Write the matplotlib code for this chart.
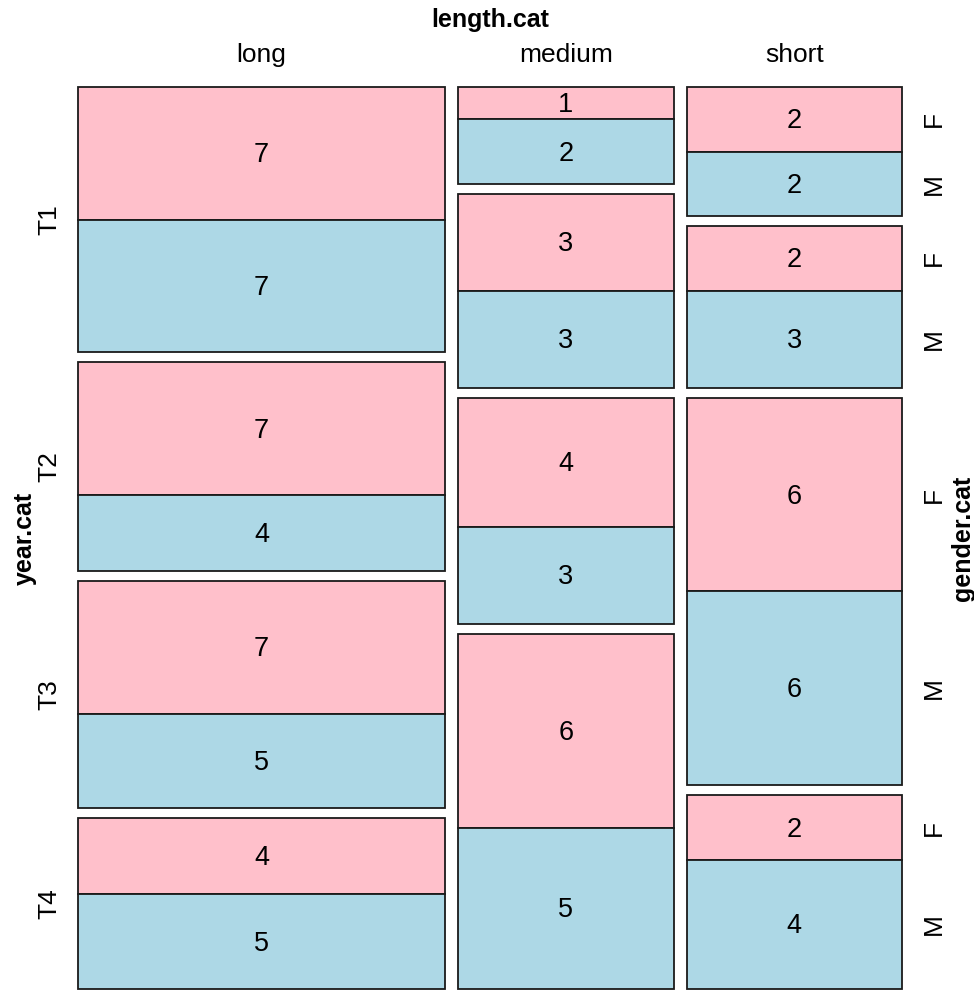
import matplotlib
matplotlib.use("Agg")
import matplotlib.pyplot as plt
from matplotlib.patches import Rectangle

# counts[length][year] = (F, M)
lengths = ["long", "medium", "short"]
years = ["T1", "T2", "T3", "T4"]
genders = ["F", "M"]
counts_long = [(7, 7), (7, 4), (7, 5), (4, 5)]
counts_medium = [(1, 2), (3, 3), (4, 3), (6, 5)]
counts_short = [(2, 2), (2, 3), (6, 6), (2, 4)]
counts = [counts_long, counts_medium, counts_short]
gender_colors = ["pink", "lightblue"]

plt.rcParams["font.family"] = ["Liberation Sans", "DejaVu Sans"]

W, H = 974, 990
fig = plt.figure(figsize=(W / 100, H / 100), dpi=100)
ax = fig.add_axes([0, 0, 1, 1])
ax.set_xlim(0, W)
ax.set_ylim(H, 0)
ax.axis("off")

left, right, top, bottom = 78, 902, 87, 989
xgap, ygap = 13, 10
dy = 2  # nudge horizontal labels down a touch

col_totals = [sum(f + m for f, m in col) for col in counts]
grand = sum(col_totals)
avail_w = (right - left) - xgap * (len(lengths) - 1)
avail_h = (bottom - top) - ygap * (len(years) - 1)

x = left
for ci, col in enumerate(counts):
    w = avail_w * col_totals[ci] / grand
    ax.text(x + w / 2, 53 + dy, lengths[ci], ha="center", va="center", fontsize=19)
    y = top
    for yi, (f, m) in enumerate(col):
        n = f + m
        h = avail_h * n / col_totals[ci]
        yy = y
        for gi, v in enumerate((f, m)):
            gh = h * v / n
            ax.add_patch(Rectangle((x, yy), w, gh, facecolor=gender_colors[gi],
                                   edgecolor="#1a1a1a", linewidth=1.3))
            ax.text(x + w / 2, yy + gh / 2 + dy, str(v), ha="center", va="center",
                    fontsize=19.5)
            if ci == len(counts) - 1:
                ax.text(934, yy + gh / 2, genders[gi], ha="center", va="center",
                        rotation=90, fontsize=19)
            yy += gh
        if ci == 0:
            ax.text(49, y + h / 2, years[yi], ha="center", va="center",
                    rotation=90, fontsize=19)
        y += h + ygap
    x += w + xgap

ax.text((left + right) / 2, 18 + dy, "length.cat", ha="center", va="center",
        fontsize=18, fontweight="bold")
ax.text(25, (top + bottom) / 2, "year.cat", ha="center", va="center",
        rotation=90, fontsize=18, fontweight="bold")
ax.text(963, (top + bottom) / 2, "gender.cat", ha="center", va="center",
        rotation=90, fontsize=18, fontweight="bold")

fig.savefig("out.png", dpi=100)
